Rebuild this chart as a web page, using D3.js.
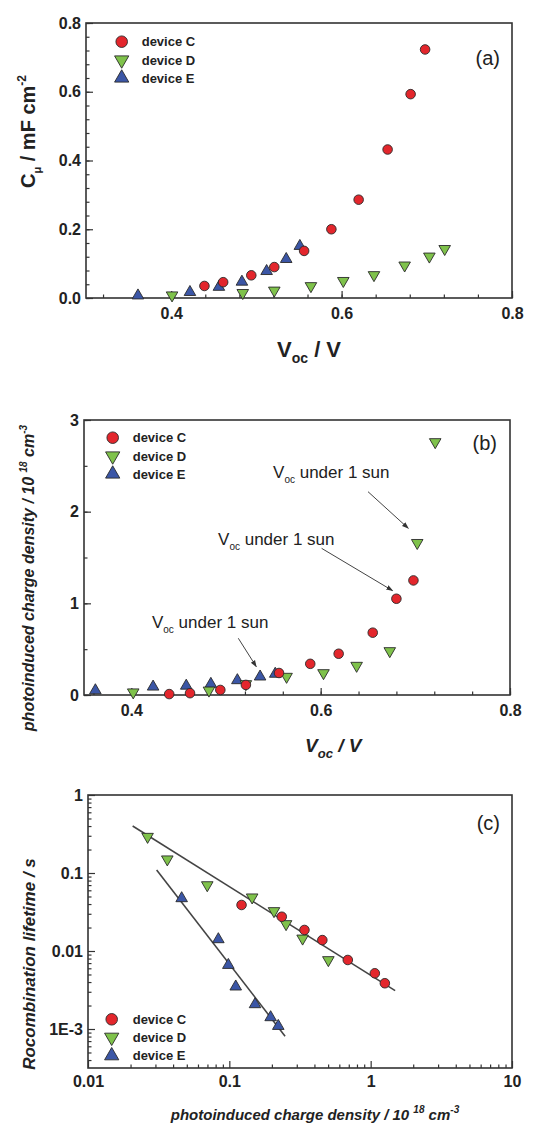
<!DOCTYPE html>
<html><head><meta charset="utf-8">
<script src="https://cdn.jsdelivr.net/npm/d3@7"></script>
<style>
body{margin:0;background:#fff}
svg{display:block}
text{font-family:"Liberation Sans",Arial,Helvetica,sans-serif;fill:#222}
</style>
</head><body>
<svg id="chart" width="543" height="1129"></svg>
<script>
// ---------------- DATA ----------------
// Panel (a): chemical capacitance vs Voc
const aC_voc = [0.439,0.461,0.494,0.521,0.556,0.588,0.620,0.654,0.681,0.698];
const aC_cap = [0.035,0.046,0.066,0.090,0.137,0.200,0.286,0.432,0.593,0.723];
const aD_voc = [0.401,0.484,0.521,0.564,0.602,0.638,0.674,0.703,0.721];
const aD_cap = [0.008,0.015,0.022,0.035,0.050,0.067,0.095,0.121,0.143];
const aE_voc = [0.361,0.422,0.456,0.483,0.512,0.535,0.551];
const aE_cap = [0.007,0.017,0.032,0.047,0.078,0.113,0.151];
const aXTicks = [0.4,0.6,0.8];
const aYTicks = [0.0,0.2,0.4,0.6,0.8];

// Panel (b): photoinduced charge density vs Voc
const bC_voc = [0.440,0.462,0.494,0.521,0.556,0.589,0.619,0.655,0.680,0.698];
const bC_n   = [0.01,0.02,0.055,0.11,0.24,0.34,0.45,0.68,1.05,1.25];
const bD_voc = [0.402,0.482,0.521,0.564,0.603,0.638,0.673,0.702,0.721];
const bD_n   = [0.03,0.05,0.12,0.20,0.24,0.32,0.48,1.66,2.76];
const bE_voc = [0.362,0.423,0.458,0.484,0.512,0.536,0.552];
const bE_n   = [0.05,0.09,0.10,0.12,0.16,0.20,0.23];
const bXTicks = [0.4,0.6,0.8];
const bYTicks = [0,1,2,3];
// annotation arrows [voc, n] start -> end
const bArrows = [
  [[0.650,2.218],[0.6926,1.818]],
  [[0.601,1.600],[0.676,1.138]],
  [[0.513,0.619],[0.532,0.309]]
];
const bNotes = [[0.5497,2.367],[0.4916,1.636],[0.4218,0.731]];

// Panel (c): recombination lifetime vs charge density
const cC_n   = [0.122,0.235,0.340,0.455,0.689,1.07,1.26];
const cC_tau = [0.0389,0.0275,0.0186,0.0138,0.00767,0.00518,0.00386];
const cD_n   = [0.0264,0.0364,0.0698,0.145,0.207,0.252,0.330,0.502];
const cD_tau = [0.292,0.150,0.070,0.0488,0.0326,0.0222,0.0145,0.00767];
const cE_n   = [0.046,0.0836,0.0984,0.111,0.152,0.196,0.222];
const cE_tau = [0.0473,0.0141,0.0066,0.00349,0.00207,0.00141,0.00109];
const fitCD_n = [0.0207,1.49], fitCD_tau = [0.401,0.0031];
const fitE_n  = [0.0306,0.248], fitE_tau = [0.109,0.00081];
const cXTicks = [0.01,0.1,1,10], cXLabels = ["0.01","0.1","1","10"];
const cYTicks = [1,0.1,0.01,0.001], cYLabels = ["1","0.1","0.01","1E-3"];

const seriesNames = ["device C","device D","device E"];

// ---------------- STYLE ----------------
const COL = {C:"#e3262c", D:"#7fc24b", E:"#3b56a6"};
const STROKE = "#2a2a2a";
const svg = d3.select("#chart");
svg.append("rect").attr("width",543).attr("height",1129).attr("fill","#fff");

const symCircle = d3.symbol().type(d3.symbolCircle).size(72)();
const symTri = d3.symbol().type(d3.symbolTriangle).size(58)();
const symCircleL = d3.symbol().type(d3.symbolCircle).size(105)();
const symTriL = d3.symbol().type(d3.symbolTriangle).size(88)();

function marker(g, kind, x, y, legend){
  const p = g.append("path")
    .attr("fill", COL[kind]).attr("stroke", STROKE).attr("stroke-width", 0.9);
  if(kind==="C") p.attr("d", legend?symCircleL:symCircle).attr("transform",`translate(${x},${y})`);
  else if(kind==="D") p.attr("d", legend?symTriL:symTri).attr("transform",`translate(${x},${y}) rotate(180)`);
  else p.attr("d", legend?symTriL:symTri).attr("transform",`translate(${x},${y})`);
}

function frame(box){
  svg.append("rect").attr("x",box.l).attr("y",box.t)
    .attr("width",box.r-box.l).attr("height",box.b-box.t)
    .attr("fill","none").attr("stroke","#333").attr("stroke-width",1.6);
}

function styleAxis(g, fs){
  g.select(".domain").remove();
  g.selectAll(".tick line").attr("stroke","#333").attr("stroke-width",1.2);
  g.selectAll(".tick text").attr("font-size",fs).attr("font-weight","bold")
    .attr("fill","#222").attr("font-family",'"Liberation Sans",Arial,sans-serif');
}

function linAxes(box, x, y, xt, yt, xMinorStep, yMinorStep, xfmt, yfmt){
  const xd = x.domain(), yd = y.domain();
  const xMinor = d3.range(Math.ceil(xd[0]/xMinorStep-1e-9)*xMinorStep, xd[1]+1e-9, xMinorStep);
  const yMinor = d3.range(Math.ceil(yd[0]/yMinorStep-1e-9)*yMinorStep, yd[1]+1e-9, yMinorStep);
  const gxm = svg.append("g").attr("transform",`translate(0,${box.b})`)
    .call(d3.axisBottom(x).tickValues(xMinor).tickSize(-3.5).tickFormat(""));
  styleAxis(gxm,0);
  const gym = svg.append("g").attr("transform",`translate(${box.l},0)`)
    .call(d3.axisLeft(y).tickValues(yMinor).tickSize(-3.5).tickFormat(""));
  styleAxis(gym,0);
  const gx = svg.append("g").attr("transform",`translate(0,${box.b})`)
    .call(d3.axisBottom(x).tickValues(xt).tickSize(-7).tickPadding(10).tickFormat(xfmt));
  styleAxis(gx,16);
  const gy = svg.append("g").attr("transform",`translate(${box.l},0)`)
    .call(d3.axisLeft(y).tickValues(yt).tickSize(-7).tickPadding(5).tickFormat(yfmt));
  styleAxis(gy,16);
}

function legend(x0, y0s, tx){
  ["C","D","E"].forEach((k,i)=>{
    marker(svg, k, x0, y0s[i], true);
    svg.append("text").attr("x",tx).attr("y",y0s[i]+4.5)
      .attr("font-size",13).attr("font-weight","bold").text(seriesNames[i]);
  });
}

function plotSeries(x, y, xs, ys, kind){
  const g = svg.append("g");
  xs.forEach((v,i)=> marker(g, kind, x(v), y(ys[i]), false));
}

// ---------------- PANEL (a) ----------------
{
  const box = {l:86, r:512, t:23, b:298};
  const x = d3.scaleLinear().domain([0.3,0.8]).range([box.l,box.r]);
  const y = d3.scaleLinear().domain([0,0.8]).range([box.b,box.t]);
  linAxes(box, x, y, aXTicks, aYTicks, 0.04, 0.04, d3.format(".1f"), d3.format(".1f"));
  frame(box);
  plotSeries(x,y,aE_voc,aE_cap,"E");
  plotSeries(x,y,aD_voc,aD_cap,"D");
  plotSeries(x,y,aC_voc,aC_cap,"C");
  legend(121.7,[41.7,60,78],141.7);
  svg.append("text").attr("x",500).attr("y",65).attr("text-anchor","end")
    .attr("font-size",20).text("(a)");
  // x label
  const xl = svg.append("text").attr("x",277).attr("y",357)
    .attr("font-size",22).attr("font-weight","bold");
  xl.append("tspan").text("V");
  xl.append("tspan").attr("font-size",14).attr("dy",6).text("oc");
  xl.append("tspan").attr("dy",-6).text(" / V");
  // y label
  const yl = svg.append("text").attr("transform","translate(35,188) rotate(-90)")
    .attr("font-size",20).attr("font-weight","bold");
  yl.append("tspan").text("C");
  yl.append("tspan").attr("font-size",11).attr("dy",6).text("μ");
  yl.append("tspan").attr("dy",-6).text(" / mF cm");
  yl.append("tspan").attr("font-size",12).attr("dy",-9).text("-2");
}

// ---------------- PANEL (b) ----------------
{
  const box = {l:84, r:510, t:420, b:695};
  const x = d3.scaleLinear().domain([0.35,0.8]).range([box.l,box.r]);
  const y = d3.scaleLinear().domain([0,3]).range([box.b,box.t]);
  linAxes(box, x, y, bXTicks, bYTicks, 0.04, 0.5, d3.format(".1f"), d3.format("d"));
  frame(box);
  plotSeries(x,y,bE_voc,bE_n,"E");
  plotSeries(x,y,bD_voc,bD_n,"D");
  plotSeries(x,y,bC_voc,bC_n,"C");
  legend(112.7,[437.7,456,474],132.7);
  svg.append("text").attr("x",497).attr("y",450).attr("text-anchor","end")
    .attr("font-size",20).text("(b)");
  // annotations
  const defs = svg.append("defs");
  defs.append("marker").attr("id","arr").attr("viewBox","0 0 10 10")
    .attr("refX",9).attr("refY",5).attr("markerWidth",7).attr("markerHeight",7)
    .attr("orient","auto-start-reverse")
    .append("path").attr("d","M0,1.5 L10,5 L0,8.5 z").attr("fill","#333");
  bArrows.forEach(a=>{
    svg.append("line").attr("x1",x(a[0][0])).attr("y1",y(a[0][1]))
      .attr("x2",x(a[1][0])).attr("y2",y(a[1][1]))
      .attr("stroke","#444").attr("stroke-width",1).attr("marker-end","url(#arr)");
  });
  bNotes.forEach(n=>{
    const t = svg.append("text").attr("x",x(n[0])).attr("y",y(n[1])).attr("font-size",17);
    t.append("tspan").text("V");
    t.append("tspan").attr("font-size",10).attr("dy",5).text("oc");
    t.append("tspan").attr("dy",-5).text(" under 1 sun");
  });
  const xl = svg.append("text").attr("x",305).attr("y",752)
    .attr("font-size",19).attr("font-weight","bold").attr("font-style","italic");
  xl.append("tspan").text("V");
  xl.append("tspan").attr("font-size",13).attr("dy",6).text("oc");
  xl.append("tspan").attr("dy",-6).text(" / V");
  const yl = svg.append("text").attr("transform","translate(34,578) rotate(-90)")
    .attr("text-anchor","middle")
    .attr("font-size",16).attr("font-weight","bold").attr("font-style","italic");
  yl.append("tspan").text("photoinduced charge density / 10 ");
  yl.append("tspan").attr("font-size",10).attr("dy",-7).text("18");
  yl.append("tspan").attr("dy",7).text(" cm");
  yl.append("tspan").attr("font-size",10).attr("dy",-7).text("-3");
}

// ---------------- PANEL (c) ----------------
{
  const box = {l:88, r:512, t:795, b:1068};
  const x = d3.scaleLog().domain([0.01,10]).range([box.l,box.r]);
  const y = d3.scaleLog().domain([Math.pow(10,-3.5),1]).range([box.b,box.t]);
  const xMinor = [], yMinor = [];
  [0.01,0.1,1].forEach(d=>{ for(let k=2;k<=9;k++) xMinor.push(d*k); });
  [0.0001,0.001,0.01,0.1].forEach(d=>{ for(let k=2;k<=9;k++){ const v=d*k; if(v>=y.domain()[0]&&v<=1) yMinor.push(v);} });
  const gxm = svg.append("g").attr("transform",`translate(0,${box.b})`)
    .call(d3.axisBottom(x).tickValues(xMinor).tickSize(-3.5).tickFormat(""));
  styleAxis(gxm,0);
  const gym = svg.append("g").attr("transform",`translate(${box.l},0)`)
    .call(d3.axisLeft(y).tickValues(yMinor).tickSize(-3.5).tickFormat(""));
  styleAxis(gym,0);
  const gx = svg.append("g").attr("transform",`translate(0,${box.b})`)
    .call(d3.axisBottom(x).tickValues(cXTicks).tickSize(-7).tickPadding(8)
      .tickFormat((d,i)=>cXLabels[i]));
  styleAxis(gx,16);
  const gy = svg.append("g").attr("transform",`translate(${box.l},0)`)
    .call(d3.axisLeft(y).tickValues(cYTicks).tickSize(-7).tickPadding(5)
      .tickFormat((d,i)=>cYLabels[i]));
  styleAxis(gy,16);
  frame(box);
  const line = d3.line().x(d=>x(d[0])).y(d=>y(d[1]));
  svg.append("path").attr("d",line(fitCD_n.map((v,i)=>[v,fitCD_tau[i]])))
    .attr("stroke","#444").attr("stroke-width",1.6).attr("fill","none");
  svg.append("path").attr("d",line(fitE_n.map((v,i)=>[v,fitE_tau[i]])))
    .attr("stroke","#444").attr("stroke-width",1.6).attr("fill","none");
  plotSeries(x,y,cE_n,cE_tau,"E");
  plotSeries(x,y,cD_n,cD_tau,"D");
  plotSeries(x,y,cC_n,cC_tau,"C");
  legend(111.7,[1019.3,1037.3,1055.7],132.7);
  svg.append("text").attr("x",500).attr("y",830).attr("text-anchor","end")
    .attr("font-size",20).text("(c)");
  const xl = svg.append("text").attr("x",315).attr("y",1120).attr("text-anchor","middle")
    .attr("font-size",15).attr("font-weight","bold").attr("font-style","italic");
  xl.append("tspan").text("photoinduced charge density / 10 ");
  xl.append("tspan").attr("font-size",10).attr("dy",-7).text("18");
  xl.append("tspan").attr("dy",7).text(" cm");
  xl.append("tspan").attr("font-size",10).attr("dy",-7).text("-3");
  const yl = svg.append("text").attr("transform","translate(35,964) rotate(-90)")
    .attr("text-anchor","middle")
    .attr("font-size",17).attr("font-weight","bold").attr("font-style","italic")
    .text("Rocombination lifetime / s");
}
</script>
</body></html>
